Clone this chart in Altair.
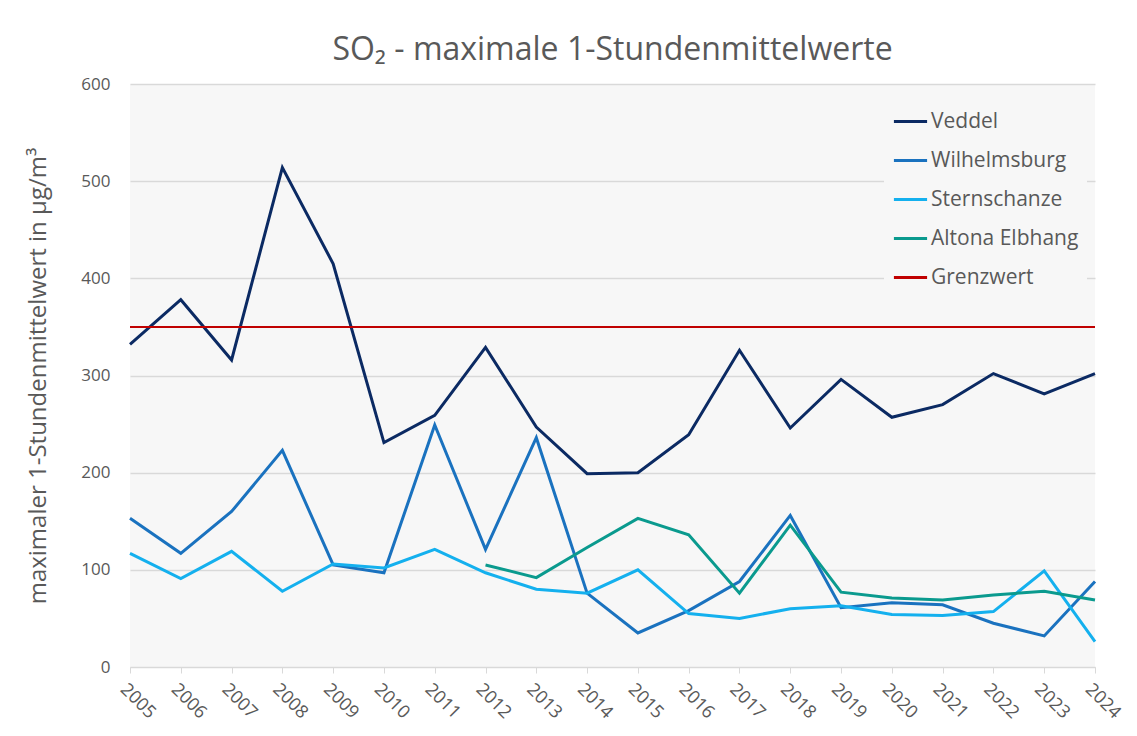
import altair as alt
import pandas as pd

years = list(range(2005, 2025))
veddel = [332, 378, 316, 514, 415, 231, 259, 329, 247, 199, 200, 239, 326, 246, 296, 257, 270, 302, 281, 302]
wilhelmsburg = [153, 117, 160, 223, 105, 97, 249, 121, 236, 76, 35, 58, 88, 156, 61, 66, 64, 45, 32, 88]
sternschanze = [117, 91, 119, 78, 106, 102, 121, 97, 80, 76, 100, 55, 50, 60, 63, 54, 53, 57, 99, 26]
altona_years = list(range(2012, 2025))
altona = [105, 92, 123, 153, 136, 76, 146, 77, 71, 69, 74, 78, 69]
grenzwert = 350

series = ["Veddel", "Wilhelmsburg", "Sternschanze", "Altona Elbhang", "Grenzwert"]
colors = ["#0b2a63", "#1a72bf", "#14b0ee", "#0a9a8e", "#c00000"]

rows = []
for name, vals in [("Veddel", veddel), ("Wilhelmsburg", wilhelmsburg), ("Sternschanze", sternschanze)]:
    for y, v in zip(years, vals):
        rows.append({"Jahr": str(y), "Wert": v, "Station": name})
for y, v in zip(altona_years, altona):
    rows.append({"Jahr": str(y), "Wert": v, "Station": "Altona Elbhang"})
df = pd.DataFrame(rows)
gw = pd.DataFrame({"Jahr": [str(y) for y in years], "Wert": [grenzwert] * len(years), "Station": "Grenzwert"})

font = "Open Sans"
gray = "#595959"

x = alt.X("Jahr:O", scale=alt.Scale(type="point", padding=0),
          axis=alt.Axis(title=None, labelAngle=45, labelAlign="left", labelBaseline="top",
                        labelFontSize=18, labelColor=gray, labelFont=font, labelPadding=7,
                        domainColor="#d9d9d9", tickColor="#d9d9d9", tickSize=6, grid=False,
                        labelOffset=-1))
y = alt.Y("Wert:Q", scale=alt.Scale(domain=[0, 600], nice=False),
          axis=alt.Axis(title="maximaler 1-Stundenmittelwert in µg/m³", values=[0, 100, 200, 300, 400, 500, 600],
                        labelFontSize=17, labelColor=gray, labelFont=font, labelPadding=20,
                        titleFontSize=24, titleColor=gray, titleFont=font, titleFontWeight="normal",
                        titlePadding=30, domain=False, ticks=False, gridColor="#d9d9d9", gridWidth=1.3))
color = alt.Color("Station:N", scale=alt.Scale(domain=series, range=colors),
                  legend=alt.Legend(title=None, orient="none", legendX=754, legendY=11,
                                    symbolType="stroke", symbolSize=1100, symbolStrokeWidth=3,
                                    labelFontSize=21, labelColor=gray, labelFont=font,
                                    rowPadding=10, fillColor="#f7f7f7", padding=8, labelOffset=2))

lines = alt.Chart(df).mark_line(strokeWidth=3).encode(x=x, y=y, color=color,
                                                       order=alt.Order("Jahr:O"))
gline = alt.Chart(gw).mark_line(strokeWidth=2).encode(x=x, y=y, color=color)

chart = alt.layer(lines, gline).properties(
    width=965, height=583,
    background="white",
    title=alt.Title("SO₂ - maximale 1-Stundenmittelwerte", fontSize=32, color=gray, font=font,
                    fontWeight="normal", offset=8),
    autosize=alt.AutoSizeParams(type="none"),
    padding={"left": 122, "top": 76, "right": 34, "bottom": 60},
).configure_view(fill="#f7f7f7", stroke=None)

chart.save("out.html", embed_options={"renderer": "svg", "actions": False})
